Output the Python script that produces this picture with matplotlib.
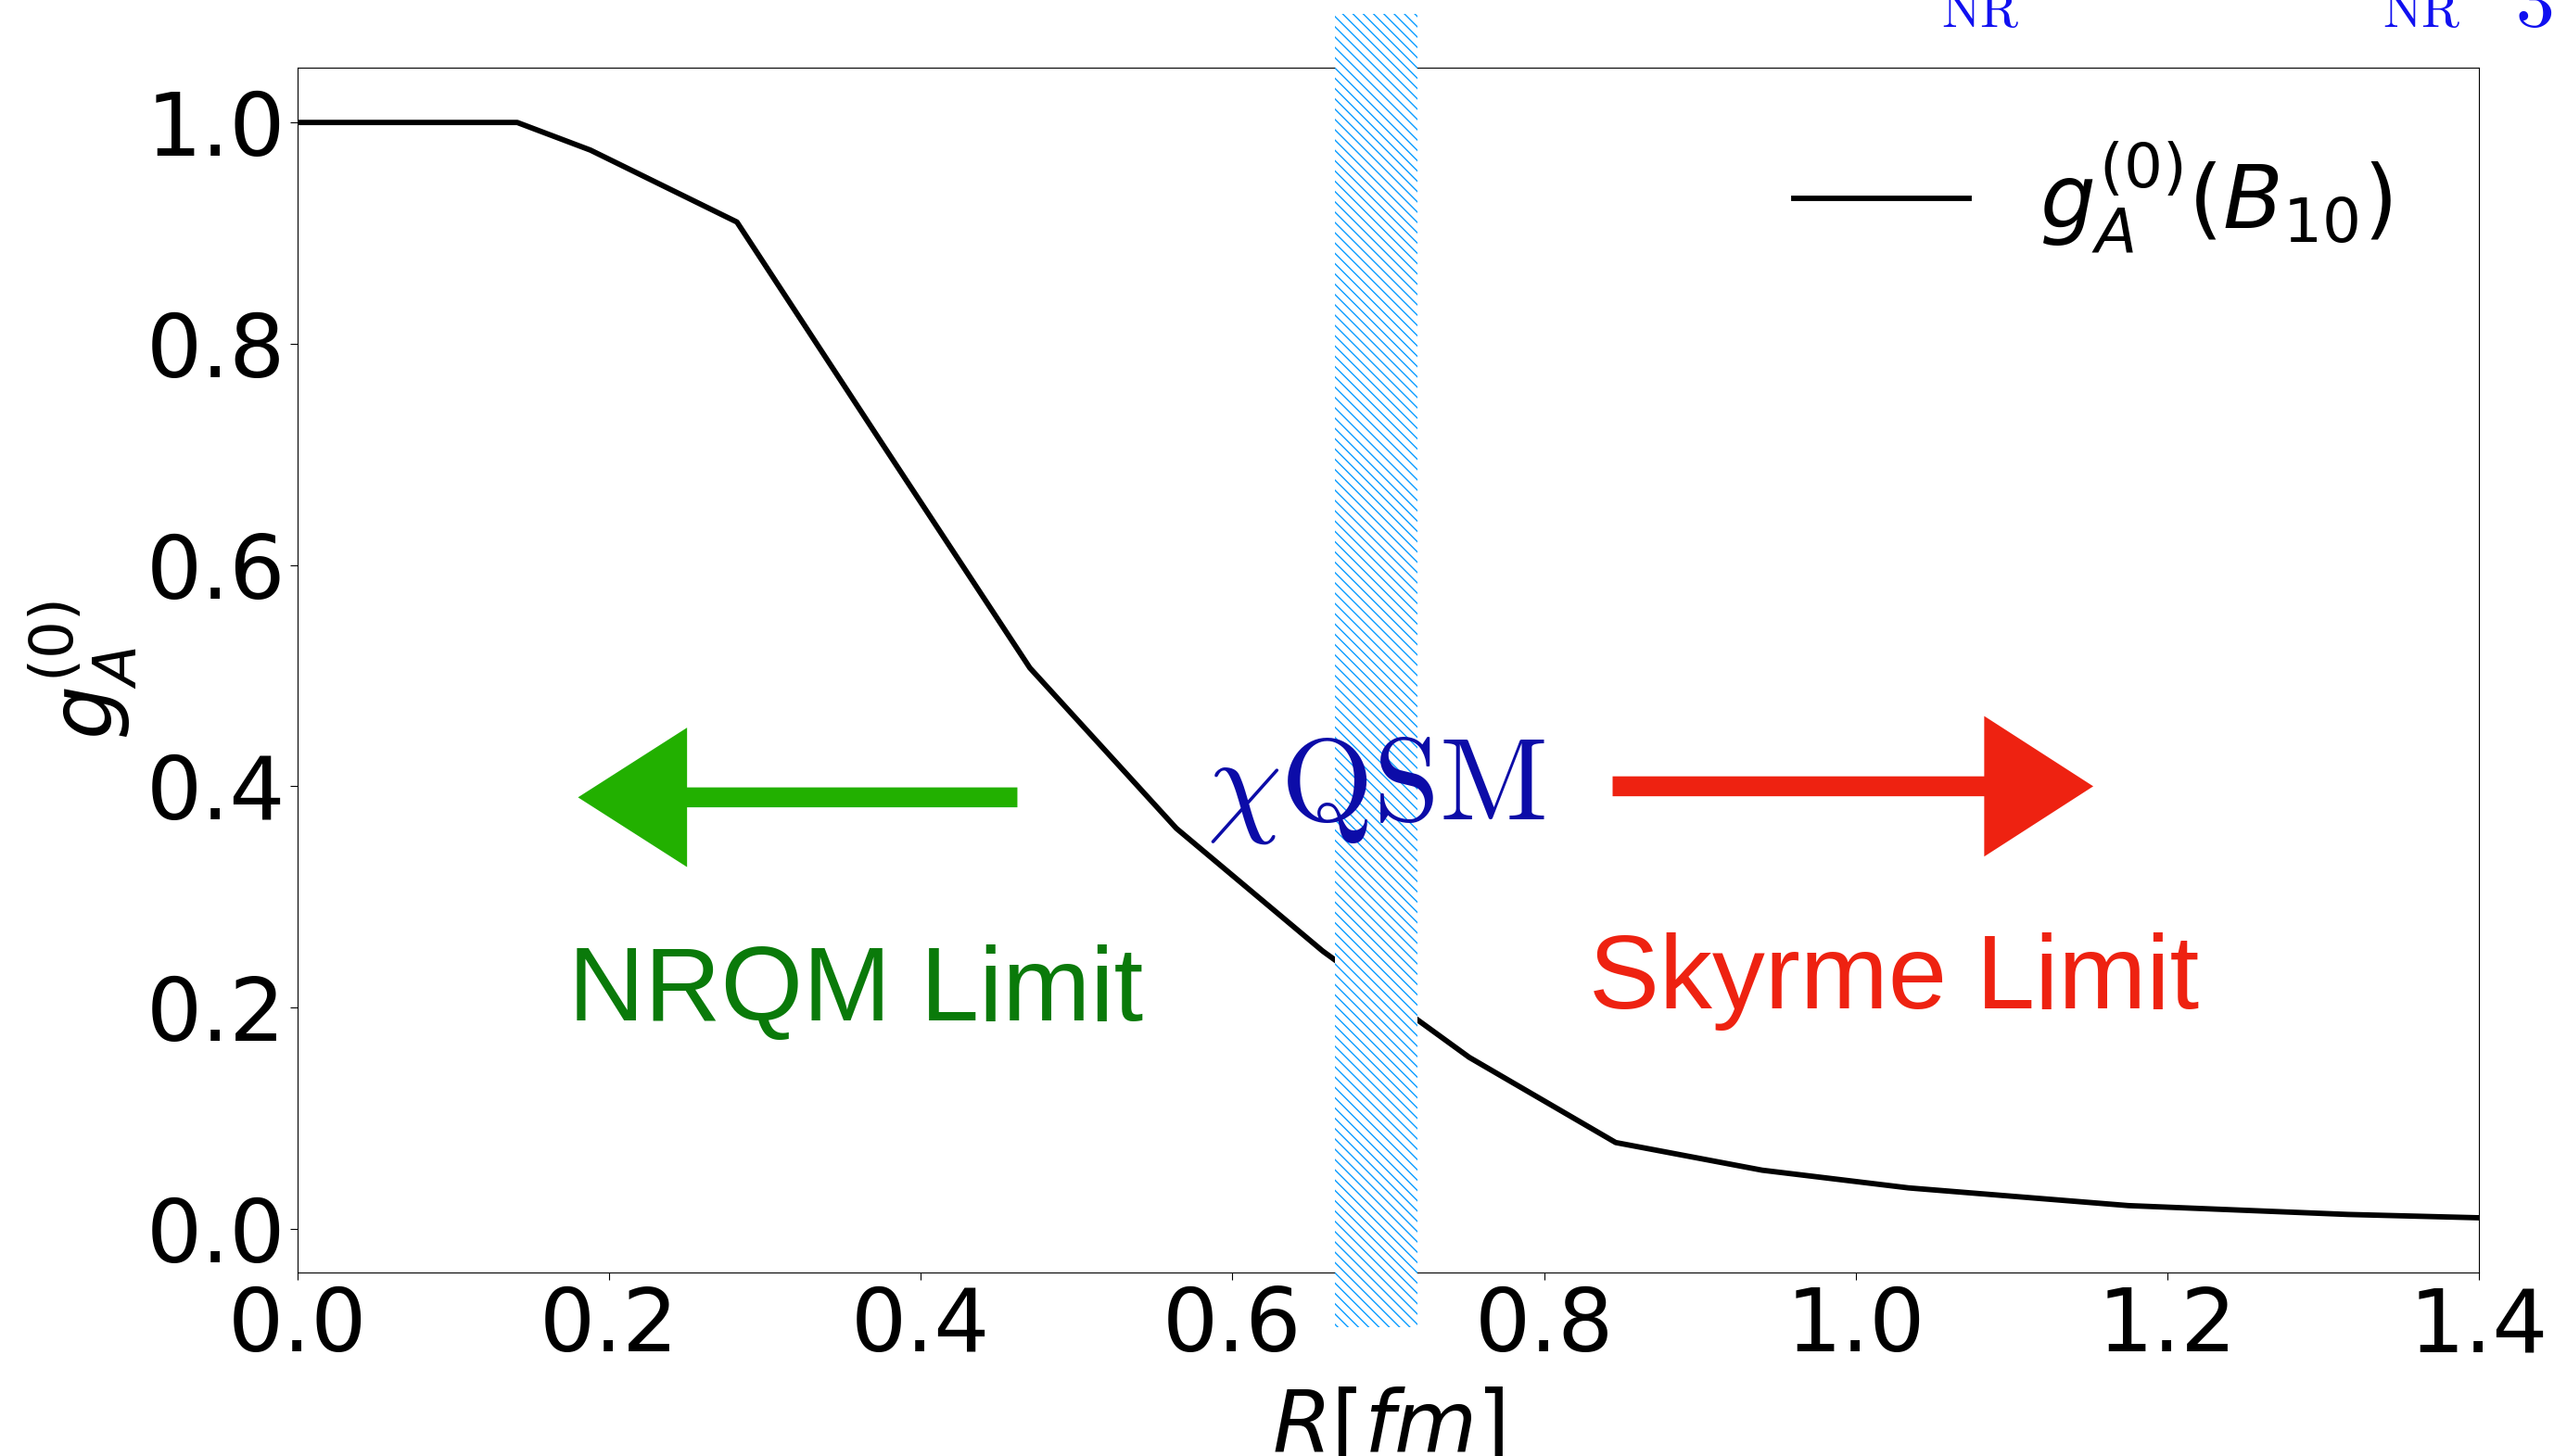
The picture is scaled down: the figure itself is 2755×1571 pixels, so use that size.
#!/usr/bin/env python3
import matplotlib
matplotlib.use('Agg')
import matplotlib.pyplot as plt
from matplotlib.patches import Rectangle, FancyArrow

# g_A^(0)(B_10) against the soliton size R
R = [0.0, 0.141, 0.188, 0.282, 0.376, 0.470, 0.564, 0.658, 0.752, 0.846, 0.940, 1.034, 1.175, 1.316, 1.400]
gA = [1.0, 1.0, 0.975, 0.910, 0.708, 0.507, 0.362, 0.251, 0.155, 0.078, 0.053, 0.037, 0.021, 0.013, 0.010]

# chiQSM window on the R axis
band = [0.666, 0.719]

xticks = [0.0, 0.2, 0.4, 0.6, 0.8, 1.0, 1.2, 1.4]
yticks = [0.0, 0.2, 0.4, 0.6, 0.8, 1.0]


def main():
    fig = plt.figure(figsize=(27.55, 15.71), dpi=100)
    ax = fig.add_axes([0.1165, 0.126, 0.8541, 0.8275])

    ax.plot(R, gA, color='black', lw=4.2, label=r'$g_A^{(0)}(B_{10})$', zorder=2)

    ax.set_xlim(0.0, 1.4)
    ax.set_ylim(-0.0395, 1.0495)
    ax.set_xticks(xticks)
    ax.set_yticks(yticks)
    ax.set_xticklabels([f'{t:.1f}' for t in xticks])
    ax.set_yticklabels([f'{t:.1f}' for t in yticks])
    ax.tick_params(labelsize=68, length=6)
    ax.set_xlabel(r'$R[fm]$', fontsize=66, labelpad=13)
    ax.set_ylabel(r'$g_A^{(0)}$', fontsize=66, labelpad=6)

    # hatched band, sticking out above and below the axes
    rect = Rectangle((band[0], -0.089), band[1] - band[0], 1.187,
                     facecolor='white', edgecolor='#0a9cff', linewidth=0,
                     hatch='\\\\\\', clip_on=False, zorder=3)
    ax.add_patch(rect)

    ax.text(0.692, 0.37, r'$\chi\mathrm{QSM}$', color='#0c0ca8', fontsize=92,
            math_fontfamily='cm', ha='center', va='baseline', zorder=5)

    # limits
    ax.add_patch(FancyArrow(0.462, 0.390, -0.282, 0, width=0.018, head_width=0.126,
                            head_length=0.070, length_includes_head=True,
                            color='#22b000', lw=0, zorder=4))
    ax.add_patch(FancyArrow(0.844, 0.400, 0.3085, 0, width=0.018, head_width=0.127,
                            head_length=0.070, length_includes_head=True,
                            color='#ee2211', lw=0, zorder=4))
    ax.text(0.174, 0.188, 'NRQM Limit', color='#0a7a0a', fontsize=82,
            family='Liberation Sans', va='baseline', zorder=5)
    ax.text(0.829, 0.199, 'Skyrme Limit', color='#ee2211', fontsize=82,
            family='Liberation Sans', va='baseline', zorder=5)

    ax.legend(loc='upper right', bbox_to_anchor=(0.996, 1.006), frameon=False,
              fontsize=68, handlelength=2.0, handletextpad=0.8)

    # cut-off text from the slide above
    fig.text(2094 / 2755, 1 - 29 / 1571, r'$\mathrm{NR}$', color='#1010f0',
             fontsize=40, math_fontfamily='cm', va='baseline')
    fig.text(2570 / 2755, 1 - 29 / 1571, r'$\mathrm{NR}$', color='#1010f0',
             fontsize=40, math_fontfamily='cm', va='baseline')
    fig.text(2713 / 2755, 1 - 28 / 1571, r'$3$', color='#1010f0',
             fontsize=60, math_fontfamily='cm', va='baseline')

    fig.savefig('out.png', dpi=100)


if __name__ == '__main__':
    main()
